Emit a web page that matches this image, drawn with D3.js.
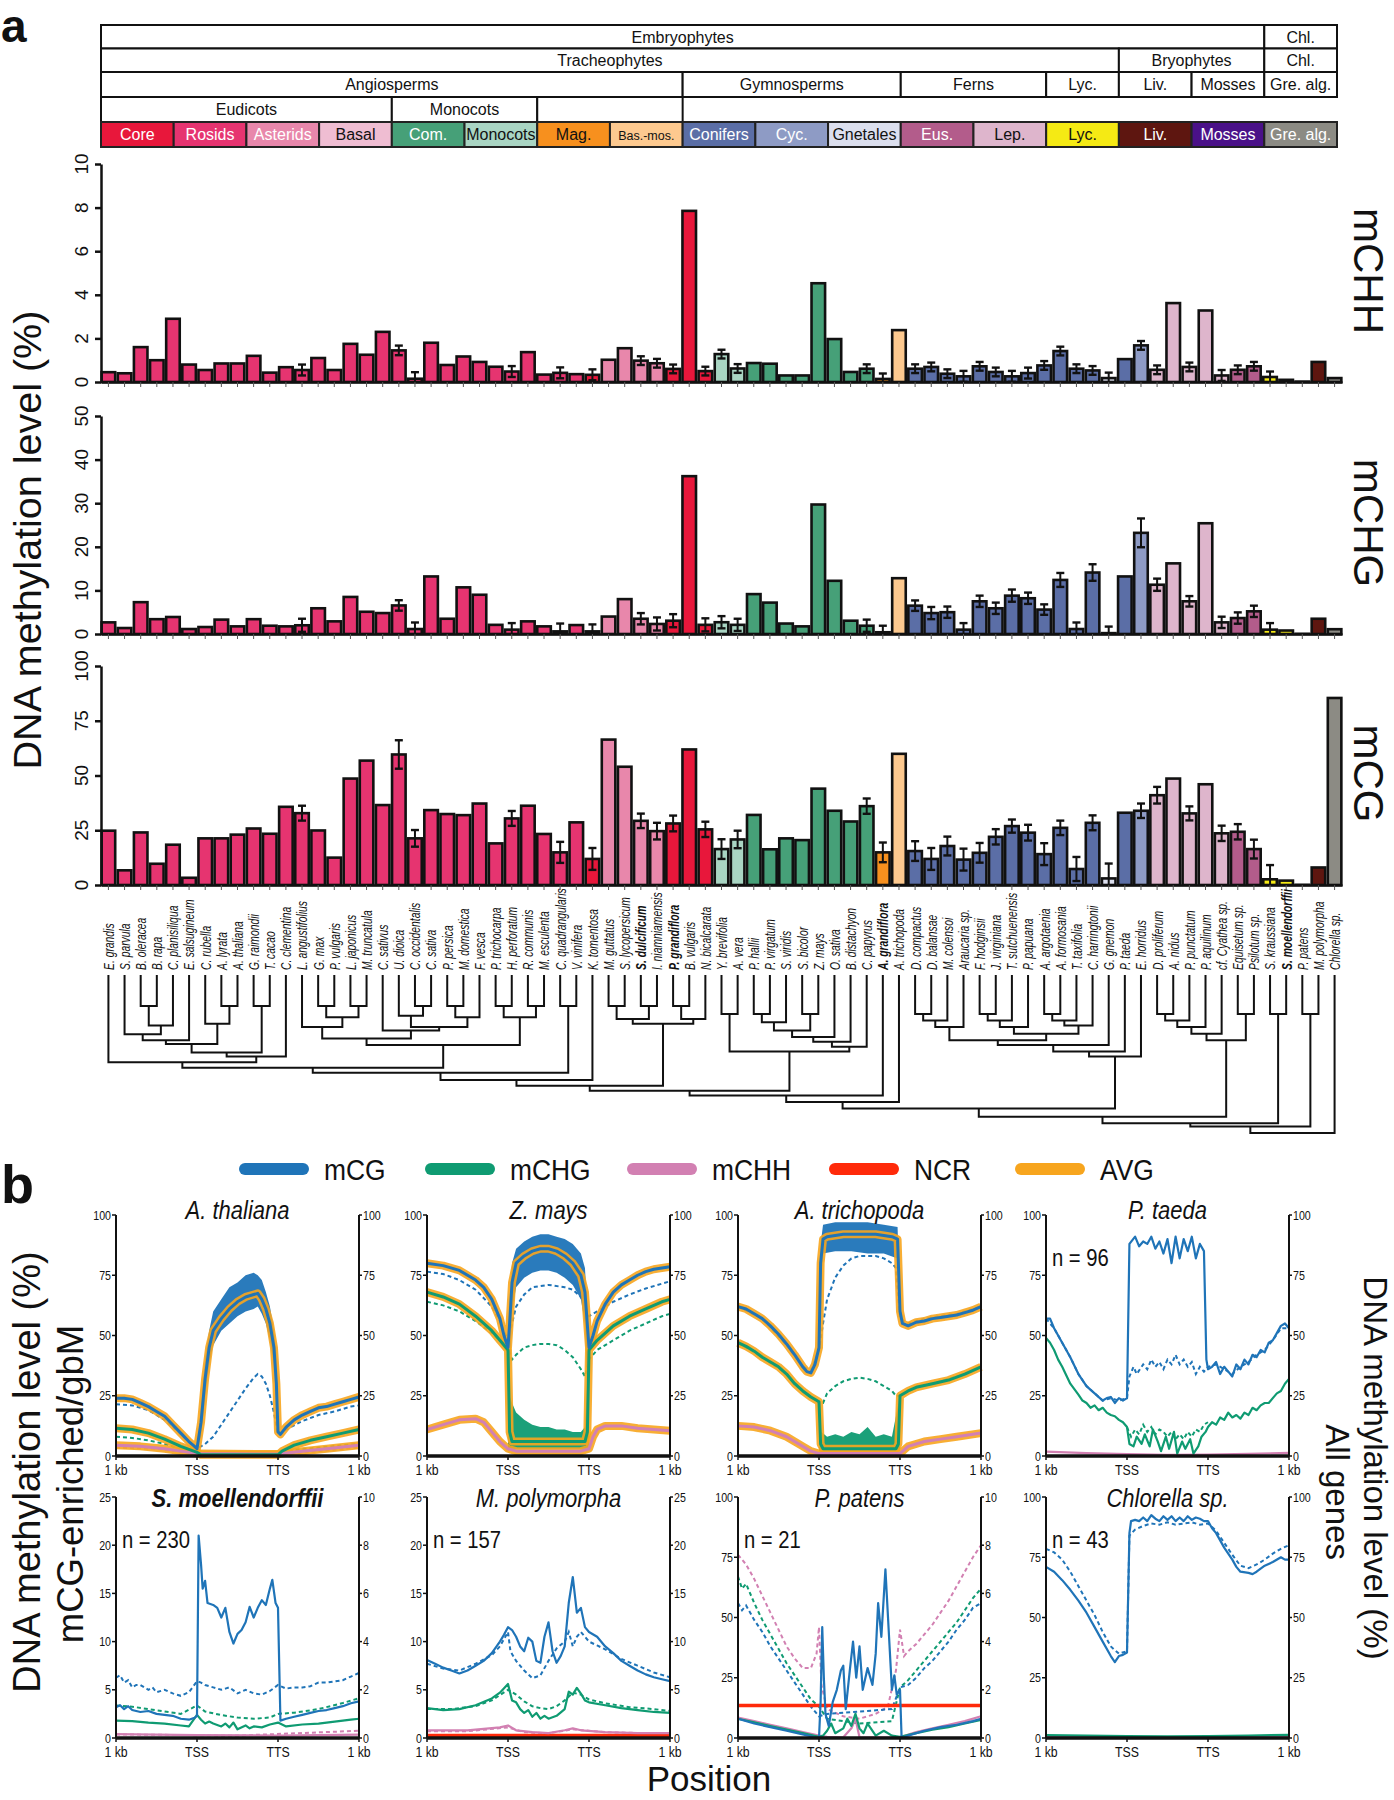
<!DOCTYPE html>
<html><head><meta charset="utf-8">
<script src="https://cdn.jsdelivr.net/npm/d3@7"></script>
<style>
body{margin:0;background:#fff;}
svg{display:block;font-family:'Liberation Sans',Arial,Helvetica,sans-serif;}
</style></head><body>
<svg id="c" width="1394" height="1800"></svg>
<script>
// ---------------- DATA: panel a ----------------
const species = ["E. grandis","S. parvula","B. oleracea","B. rapa","C. planisiliqua","E. salsugineum","C. rubella","A. lyrata","A. thaliana","G. raimondii","T. cacao","C. clementina","L. angustifolius","G. max","P. vulgaris","L. japonicus","M. truncatula","C. sativus","U. dioica","C. occidentalis","C. sativa","P. persica","M. domestica","F. vesca","P. trichocarpa","H. perforatum","R. communis","M. esculenta","C. quadrangularis","V. vinifera","K. tomentosa","M. guttatus","S. lycopersicum","S. dulcificum","I. niamniamensis","P. grandiflora","B. vulgaris","N. bicalcarata","Y. brevifolia","A. vera","P. hallii","P. virgatum","S. viridis","S. bicolor","Z. mays","O. sativa","B. distachyon","C. papyrus","A. grandiflora","A. trichopoda","D. compactus","D. balansae","M. colensoi","Araucaria sp.","F. hodginsii","J. virginiana","T. sutchuenensis","P. papuana","A. argotaenia","A. formosania","T. taxifolia","C. harringtonii","G. gnemon","P. taeda","E. horridus","D. proliferum","A. nidus","P. punctatum","P. aquilinum","cf. Cyathea sp.","Equisetum sp.","Psilotum sp.","S. kraussiana","S. moellendorffii","P. patens","M. polymorpha","Chlorella sp."];
const boldSpecies = ["S. dulcificum","P. grandiflora","A. grandiflora","S. moellendorffii"];
const speciesGroup = ["Rosids","Rosids","Rosids","Rosids","Rosids","Rosids","Rosids","Rosids","Rosids","Rosids","Rosids","Rosids","Rosids","Rosids","Rosids","Rosids","Rosids","Rosids","Rosids","Rosids","Rosids","Rosids","Rosids","Rosids","Rosids","Rosids","Rosids","Rosids","Rosids","Rosids","Core","Asterids","Asterids","Asterids","Asterids","Core","Core","Core","Monocots","Monocots","Com.","Com.","Com.","Com.","Com.","Com.","Com.","Com.","Mag.","Bas.-mos.","Conifers","Conifers","Conifers","Conifers","Conifers","Conifers","Conifers","Conifers","Conifers","Conifers","Conifers","Conifers","Gnetales","Conifers","Cyc.","Lep.","Lep.","Lep.","Lep.","Lep.","Eus.","Eus.","Lyc.","Lyc.","Mosses","Liv.","Gre. alg."];

const mCHH = [0.45,0.4,1.6,1.0,2.9,0.8,0.55,0.85,0.85,1.2, 0.43,0.68,0.55,1.1,0.55,1.75,1.25,2.3,1.45,0.15, 1.8,0.78,1.17,0.92,0.7,0.48,1.37,0.34,0.42,0.36, 0.33,1.02,1.55,0.98,0.86,0.6,7.85,0.5,1.28,0.62, 0.87,0.84,0.3,0.3,4.53,1.97,0.46,0.61,0.14,2.38, 0.61,0.69,0.38,0.26,0.72,0.46,0.26,0.41,0.76,1.42, 0.61,0.53,0.18,1.05,1.68,0.56,3.62,0.69,3.28,0.3, 0.56,0.72,0.23,0.1,0.02,0.92,0.18];
const mCHHerr = [0,0,0,0,0,0,0,0,0,0, 0,0,.25,0,0,0,0,0,.22,.3, 0,0,0,0,0,.25,0,0,.25,0, .25,0,0,.2,.2,.2,0,.2,.2,.2, 0,0,0,0,0,0,0,.2,.25,0, .2,.2,.2,.25,.2,.2,.25,.25,.2,.2, .2,.2,.25,0,.2,.2,0,.2,0,.25, .2,.2,.25,0,0,0,0];
const mCHG = [2.67,1.37,7.3,3.4,3.9,1.14,1.6,3.3,1.75,3.4, 1.9,1.75,2.0,5.9,2.9,8.5,5.1,4.8,6.55,1.14, 13.2,3.5,10.7,9.0,2.1,1.0,2.9,1.75,0.6,2.05, 0.6,4.0,8.0,3.5,2.3,3.05,36.2,2.1,2.7,2.1, 9.15,7.2,2.4,1.75,29.7,12.2,3.05,1.9,0.4,12.8, 6.5,4.8,5.0,1.0,7.5,5.9,8.8,8.2,5.6,12.4, 1.14,14.1,0.2,13.2,23.2,11.3,16.2,7.5,25.4,2.67, 3.66,5.2,1.0,0.8,0.05,3.5,1.1];
const mCHGerr = [0,0,0,0,0,0,0,0,0,0, 0,0,1.5,0,0,0,0,0,1.2,1.5, 0,0,0,0,0,1.5,0,0,1.8,0, 1.6,0,0,1.3,1.5,1.5,0,1.5,1.4,1.4, 0,0,0,0,0,0,0,1.4,1.5,0, 1.2,1.4,1.3,1.5,1.3,1.3,1.4,1.3,1.2,1.6, 1.5,1.9,1.5,0,3.3,1.4,0,1.2,0,1.3, 1.3,1.3,1.5,0,0,0,0];
const mCG = [24.8,6.7,24,9.7,18.4,3.3,21.3,21.3,23,25.8, 23.4,35.7,32.8,24.9,12.5,48.6,56.8,36.5,59.6,21.3, 34.2,32.4,31.9,37.2,19,30.4,36.2,23.3,14.9,28.6, 11.9,66.4,54,29.3,24.6,28.1,61.9,25.4,16.4,20.8, 32,16.3,21.3,20.5,44,33.9,29,36,14.9,59.9, 15.5,11.9,17.8,11.6,14.7,22,26.9,23.9,14.1,26.1, 7.3,28.4,3,33,33.9,41,48.6,32.7,46,23.6, 24.3,16.4,2.6,2,0.1,8,85.4];
const mCGerr = [0,0,0,0,0,0,0,0,0,0, 0,0,3.4,0,0,0,0,0,6.5,3.8, 0,0,0,0,0,3.4,0,0,4.8,0, 5,0,0,3.3,3.8,3.6,0,3.5,4.5,4, 0,0,0,0,0,0,0,3.5,4.5,0, 4.5,5,4.3,5,4.5,3.5,3,3.6,5,3.3, 5.5,3.4,6.8,0,3.3,3.8,0,3.2,0,3.5, 3.5,4.3,6.5,0,0,0,0];

const groups = ["Core","Rosids","Asterids","Basal","Com.","Monocots","Mag.","Bas.-mos.","Conifers","Cyc.","Gnetales","Eus.","Lep.","Lyc.","Liv.","Mosses","Gre. alg."];
const groupColors = ["#e8173b","#e63470","#e887ab","#efbdd2","#46a078","#a9d5c3","#f7901e","#fdc98f","#5b6ea6","#8e9bc5","#dcdfee","#b35c8b","#deb5cc","#f5ea14","#5e1610","#4a1188","#8c8b84"];
const groupTextColors = ["#fff","#fff","#fff","#111","#fff","#111","#111","#111","#fff","#fff","#111","#fff","#111","#111","#fff","#fff","#fff"];
const headerRows = [
  [["Embryophytes",16],["Chl.",1]],
  [["Tracheophytes",14],["Bryophytes",2],["Chl.",1]],
  [["Angiosperms",8],["Gymnosperms",3],["Ferns",2],["Lyc.",1],["Liv.",1],["Mosses",1],["Gre. alg.",1]],
  [["Eudicots",4],["Monocots",2],["",2]]
];
// tree: [node, childA, childB, branch level]
const treeJoins = [
 ["br1",3,4,9.5],["br2","br1",5,15.5],["br3",2,"br2",18.2],["br4","br3",6,20],
 ["ar1",8,9,9.5],["ar2",7,"ar1",15],["bra","br4","ar2",21.2],
 ["mal1",10,11,9.5],["mv1","bra","mal1",23.8],["mv2","mv1",12,25],["malv",1,"mv2",26.8],
 ["fa1",14,15,9.5],["fa2",16,17,9.5],["fa3","fa1","fa2",13],["fab",13,"fa3",16],
 ["ro1",20,21,9.5],["ro2",19,"ro1",12.5],["ro3",22,23,9.5],["ro4","ro3",24,13],["ros","ro2","ro4",16],
 ["cuc",18,"ros",17],["fr","fab","cuc",19.5],
 ["mp1",25,26,9.5],["mp2",27,28,9.5],["mpg","mp1","mp2",13],["fabids","fr","mpg",21.5],
 ["rs1","malv","fabids",28.5],["vit",29,30,9.5],["rs2","rs1","vit",30],["rs3","rs2",31,32.2],
 ["as1",32,33,9.5],["as2",34,35,9.5],["ast","as1","as2",13.5],["ca1",36,37,9.5],["car","ca1",38,13.5],["sup","ast","car",15],
 ["eud","rs3","sup",34],
 ["mo1",39,40,12],["po1",41,42,12],["po2","po1",43,14.5],["po3",44,45,12],["po4","po2","po3",17],
 ["po5","po4",46,19],["po6","po5",47,20.5],["po7","po6",48,22],["mon","mo1","po7",23.5],
 ["em","eud","mon",35.5],["an1","em",49,37],["ang","an1",50,39],
 ["gy1",51,52,12],["gy2","gy1",53,14],["gy3","gy2",54,16],
 ["cu1",55,56,12],["cu2","cu1",57,14],["cu3","cu2",58,16],
 ["ta1",59,60,12],["ta2","ta1",61,14],["ta3","ta2",62,15.5],["ct","cu3","ta3",18],
 ["gy4","gy3","ct",20],["gy5","gy4",63,21.5],["gy6","gy5",64,23.5],["gym","gy6",65,25],
 ["fe1",66,67,12],["fe2","fe1",68,14],["fe3","fe2",69,16],["fe4","fe3",70,18],["eu1",71,72,12],["fer","fe4","eu1",20],
 ["sp","ang","gym",41],["vs","sp","fer",43.5],["ly",73,74,12],["tr","vs","ly",45.5],
 ["by",75,76,12],["em2","tr","by",46.5],["root","em2",77,48.5]
];

// ---------------- DATA: panel b (position: 0=1kb up, 1=TSS, 2=TTS, 3=1kb down) ----------------
const thalCG = [[0,24],[0.1,24],[0.2,23.5],[0.3,22],[0.4,20.5],[0.5,18.5],[0.6,16.5],[0.7,13],[0.8,9.5],[0.9,6],[0.97,4],[1.0,3],[1.05,14],[1.1,32],[1.15,45],[1.2,52],[1.3,57],[1.4,61],[1.5,64],[1.6,66],[1.7,67],[1.75,67.5],[1.8,65],[1.85,61],[1.9,55],[1.95,45],[1.98,30],[2.0,10],[2.03,9],[2.1,12],[2.2,15],[2.3,17],[2.4,18.5],[2.5,20],[2.6,20.5],[2.7,21.5],[2.8,22.5],[2.9,23.5],[3.0,24.5]];
const thalCGband = [[1.0,3,4],[1.05,8,20],[1.1,25,40],[1.15,38,52],[1.2,46,60],[1.3,52,65],[1.4,55,70],[1.5,58,72],[1.6,60,75],[1.7,61,76],[1.75,62,75],[1.8,59,73],[1.85,55,68],[1.9,48,62],[1.95,38,52],[1.98,20,42],[2.0,8,12]];
const thalCGd = [[0,21.5],[0.2,21],[0.4,19],[0.6,15],[0.8,9],[0.95,4],[1.0,3],[1.1,5],[1.2,8],[1.3,13],[1.4,18],[1.5,23],[1.6,28],[1.7,32.5],[1.75,34],[1.8,33],[1.85,30],[1.9,25],[1.95,18],[2.0,9],[2.1,11],[2.3,14.5],[2.5,17],[2.7,18.5],[2.9,20.5],[3.0,21]];
const thalCHG = [[0,11.5],[0.2,11],[0.4,9.5],[0.6,7],[0.8,4],[1.0,1.5],[1.05,0.5],[2.0,0.5],[2.05,2],[2.2,4.5],[2.4,6.5],[2.6,8],[2.8,9.5],[3.0,11]];
const thalCHGd = [[0,8],[0.2,7.5],[0.4,6.5],[0.6,5],[0.8,3],[1.0,1],[2.0,1],[2.2,2.5],[2.5,3.5],[2.8,4.5],[3.0,5]];
const thalCHH = [[0,4.5],[0.3,4],[0.6,3],[0.9,1.5],[1.0,1],[2.0,0.8],[2.3,2],[2.6,3],[3.0,4.5]];
const thalCHHd = [[0,3.5],[0.5,3],[1.0,0.8],[2.0,0.6],[2.5,2],[3.0,3.5]];

const zmCG = [[0,80],[0.2,79],[0.4,77],[0.6,73],[0.7,70],[0.8,65],[0.9,57],[0.95,50],[1.0,45],[1.02,55],[1.05,72],[1.1,80],[1.2,83],[1.3,85],[1.4,86],[1.5,86],[1.6,85],[1.7,83],[1.8,80],[1.9,75],[1.95,68],[2.0,45],[2.05,50],[2.1,56],[2.2,63],[2.3,68],[2.4,71],[2.5,73],[2.6,75],[2.7,76.5],[2.8,77.5],[2.9,78],[3.0,78.5]];
const zmCGband = [[1.0,5,50],[1.02,30,65],[1.05,60,80],[1.1,70,86],[1.2,74,89],[1.3,76,91],[1.4,77,92],[1.5,77,92],[1.6,76,91],[1.7,74,90],[1.8,71,88],[1.9,65,84],[1.95,55,78],[2.0,5,50]];
const zmCGd = [[0,76.5],[0.2,75.5],[0.4,73],[0.6,69],[0.8,62],[0.9,56],[1.0,48],[1.05,55],[1.1,62],[1.2,67],[1.3,70],[1.5,71],[1.7,70],[1.8,69],[1.9,66],[1.95,62],[2.0,58],[2.1,60],[2.3,64],[2.5,67],[2.7,69.5],[2.9,71.5],[3.0,72.5]];
const zmCHG = [[0,68],[0.2,66],[0.4,63],[0.6,58],[0.8,52],[0.9,48],[1.0,44],[1.02,10],[1.05,6],[1.95,6],[1.98,10],[2.0,44],[2.1,48],[2.3,54],[2.5,58],[2.7,61],[2.9,64],[3.0,65]];
const zmCHGband = [[1.0,2,44],[1.02,3,25],[1.05,3,22],[1.1,3,18],[1.2,3,15],[1.3,3,13],[1.4,3,12],[1.5,3,12],[1.6,3,11],[1.7,3,11],[1.8,3,10],[1.9,3,10],[1.95,3,12],[2.0,3,44]];
const zmCHGd = [[0,64],[0.2,62.5],[0.4,60],[0.6,56],[0.8,51],[0.9,48],[1.0,45],[1.05,40],[1.1,42],[1.2,45],[1.3,46],[1.4,46.5],[1.5,46.5],[1.6,46],[1.7,44],[1.8,41],[1.9,36],[1.95,33],[2.0,40],[2.1,44],[2.3,48],[2.5,52],[2.7,55],[2.9,58],[3.0,59]];
const zmCHH = [[0,11],[0.2,13],[0.4,15],[0.6,15.5],[0.7,14],[0.8,10],[0.9,6],[1.0,3],[1.1,2],[1.9,2],[2.0,3],[2.05,8],[2.1,11],[2.2,12.5],[2.4,12.5],[2.6,11.5],[2.8,11],[3.0,10.5]];

const atCG = [[0,62],[0.1,61],[0.2,59],[0.3,57],[0.4,54],[0.5,50.5],[0.6,46.5],[0.7,42],[0.8,37],[0.85,35],[0.9,34.5],[0.95,38],[1.0,45],[1.02,80],[1.05,90],[1.1,91],[1.3,92],[1.5,92],[1.7,92],[1.9,91],[1.97,90],[2.0,60],[2.03,55],[2.1,54],[2.2,55.5],[2.3,56],[2.4,57],[2.5,57.5],[2.6,58],[2.7,58.5],[2.8,59.5],[2.9,60.5],[3.0,62]];
const atCGband = [[1.0,44,46],[1.02,70,88],[1.05,84,96],[1.2,85,97],[1.4,85,97],[1.6,84,97],[1.8,84,96],[1.97,82,95],[2.0,55,62]];
const atCGd = [[0,62],[0.3,57],[0.6,46],[0.8,37],[0.9,35.5],[1.0,44],[1.05,55],[1.1,65],[1.2,74],[1.3,79],[1.4,82],[1.5,83],[1.6,83],[1.7,83],[1.8,82],[1.9,80],[1.95,78],[2.0,57],[2.1,55],[2.3,57],[2.5,58],[2.7,59],[3.0,62]];
const atCHG = [[0,47],[0.1,45.5],[0.2,43.5],[0.3,41],[0.4,39],[0.5,37],[0.6,34],[0.7,30],[0.8,27],[0.9,24.5],[1.0,22.5],[1.02,5],[1.05,3],[1.95,3],[1.98,5],[2.0,25],[2.1,27],[2.2,28.5],[2.4,30],[2.6,31.5],[2.8,34],[3.0,37]];
const atCHGband = [[1.0,2,22],[1.03,2,10],[1.1,2,8],[1.2,2,9],[1.3,2,8],[1.4,2,10],[1.5,2,9],[1.6,2,12],[1.7,2,8],[1.8,2,9],[1.9,2,8],[2.0,2,25]];
const atCHGd = [[0,47],[0.3,41],[0.6,34],[0.8,27],[1.0,22],[1.05,22],[1.1,26],[1.2,29],[1.3,31],[1.4,32],[1.5,32.5],[1.6,32],[1.7,31],[1.8,29],[1.9,27],[1.95,25],[2.0,25],[2.2,28.5],[2.5,31],[2.8,34],[3.0,37]];
const atCHH = [[0,12.5],[0.2,12],[0.4,10.5],[0.6,8],[0.8,4],[0.9,2],[1.0,1],[2.0,1],[2.1,4],[2.3,6],[2.5,7],[2.7,8],[3.0,9.5]];

const ptCG = [[0,57],[0.05,57],[0.1,53],[0.2,47],[0.3,41],[0.4,34],[0.5,29],[0.6,26],[0.7,23],[0.75,24],[0.8,24.5],[0.85,22],[0.9,24],[0.95,23],[1.0,24],[1.03,88],[1.1,91],[1.15,87],[1.2,89],[1.25,88],[1.3,91],[1.35,86],[1.4,89],[1.45,84],[1.5,90],[1.55,80],[1.6,91],[1.65,82],[1.7,90],[1.75,85],[1.8,91],[1.85,82],[1.9,88],[1.95,85],[1.98,40],[2.0,36],[2.05,37],[2.1,39],[2.15,34],[2.2,37],[2.25,35],[2.3,33],[2.35,38],[2.4,36],[2.45,40],[2.5,38],[2.55,42],[2.6,41],[2.65,44],[2.7,43],[2.75,47],[2.8,48],[2.85,51],[2.9,54],[2.95,55],[3.0,53]];
const ptCGd = [[0,57],[0.1,53],[0.2,47],[0.3,41],[0.4,34],[0.5,29],[0.6,26],[0.7,23],[0.8,24],[0.9,23],[1.0,24],[1.03,33],[1.08,37],[1.12,34],[1.2,38],[1.25,36],[1.3,40],[1.35,37],[1.4,39],[1.45,36],[1.5,40],[1.55,38],[1.6,42],[1.65,38],[1.7,40],[1.75,37],[1.8,39],[1.85,34],[1.9,37],[1.95,35],[2.0,37],[2.1,38],[2.2,36],[2.3,34],[2.4,37],[2.5,39],[2.6,42],[2.7,44],[2.8,48],[2.9,53],[3.0,53]];
const ptCHG = [[0,49],[0.05,47],[0.1,44],[0.15,40],[0.2,37],[0.3,30],[0.4,25.5],[0.45,23],[0.5,22],[0.55,20],[0.6,21],[0.65,19],[0.7,20],[0.75,18],[0.8,17],[0.85,16.5],[0.9,15],[0.95,14],[1.0,12],[1.03,5],[1.08,4],[1.12,8],[1.18,5],[1.22,9],[1.28,4],[1.32,11],[1.38,6],[1.42,2],[1.48,8],[1.52,3],[1.58,10],[1.62,1],[1.68,6],[1.72,3],[1.78,7],[1.82,1],[1.88,4],[1.92,8],[1.97,10],[2.0,12],[2.05,14],[2.1,13],[2.15,16],[2.2,15],[2.25,18],[2.3,16],[2.35,17],[2.4,15.5],[2.45,18],[2.5,17],[2.55,20],[2.6,19],[2.65,21],[2.7,22],[2.75,22],[2.8,24],[2.85,26],[2.9,27],[2.95,30],[3.0,32]];
const ptCHGd = [[1.0,12],[1.05,8],[1.1,11],[1.15,9],[1.2,13],[1.25,10],[1.3,12],[1.35,9],[1.4,11],[1.45,10],[1.5,8],[1.55,10],[1.6,7],[1.65,9],[1.7,7],[1.75,10],[1.8,8],[1.85,11],[1.9,10],[1.95,13],[2.0,14]];
const ptCHH = [[0,1.8],[0.5,1.2],[1.0,0.8],[1.5,0.5],[2.0,0.6],[2.5,0.9],[3.0,1.3]];

const smCG = [[0,3.2],[0.05,3.4],[0.1,3.0],[0.15,3.3],[0.2,2.9],[0.3,2.7],[0.4,2.8],[0.5,2.5],[0.6,2.4],[0.7,2.3],[0.8,2.0],[0.9,1.9],[0.97,2.1],[1.0,2.3],[1.02,21],[1.05,18],[1.07,15.5],[1.1,16.3],[1.13,14],[1.2,13.8],[1.25,13.5],[1.3,12.5],[1.35,13.5],[1.4,11],[1.45,9.8],[1.5,10.8],[1.55,11.2],[1.6,12],[1.65,13.6],[1.7,12.5],[1.75,13.5],[1.8,14.3],[1.85,13.8],[1.9,15.5],[1.93,16.4],[1.97,14],[2.0,13.5],[2.03,1.8],[2.1,2.0],[2.2,2.2],[2.3,2.4],[2.4,2.6],[2.5,2.8],[2.6,2.9],[2.7,3.1],[2.8,3.3],[2.9,3.6],[3.0,3.8]];
const smCGd = [[0,2.5],[0.05,2.6],[0.1,2.3],[0.15,2.4],[0.2,2.1],[0.25,2.2],[0.3,2.2],[0.4,2.0],[0.45,2.1],[0.5,1.9],[0.6,2.0],[0.7,1.85],[0.8,1.75],[0.9,1.9],[1.0,2.35],[1.05,2.3],[1.1,2.2],[1.2,2.1],[1.3,2.0],[1.35,2.05],[1.4,2.1],[1.5,1.85],[1.6,2.0],[1.7,1.85],[1.8,1.8],[1.9,1.95],[2.0,2.2],[2.1,2.05],[2.2,2.1],[2.3,2.1],[2.4,2.15],[2.5,2.3],[2.6,2.3],[2.7,2.35],[2.8,2.4],[2.9,2.55],[3.0,2.7]];
const smCHG = [[0,1.8],[0.2,1.75],[0.4,1.6],[0.6,1.5],[0.8,1.3],[0.9,1.2],[1.0,2.4],[1.05,1.9],[1.1,1.5],[1.15,1.7],[1.2,1.5],[1.3,1.2],[1.35,1.5],[1.4,1.1],[1.45,1.6],[1.5,0.9],[1.6,1.3],[1.65,1.0],[1.7,1.2],[1.8,1.1],[1.9,1.4],[2.0,1.6],[2.1,1.2],[2.3,1.4],[2.5,1.5],[2.7,1.7],[2.9,1.9],[3.0,2.0]];
const smCHGd = [[0,1.35],[0.2,1.3],[0.4,1.2],[0.6,1.1],[0.8,1.0],[1.0,1.35],[1.1,1.1],[1.3,0.95],[1.5,0.85],[1.7,0.8],[1.9,0.85],[2.0,1.0],[2.2,1.05],[2.5,1.2],[2.8,1.45],[3.0,1.65]];
const smCHH = [[0,0.4],[1.0,0.3],[2.0,0.25],[3.0,0.35]];
const smCHHd = [[0,0.15],[1.5,0.1],[3.0,0.3]];

const mpCG = [[0,8.1],[0.1,7.7],[0.2,7.3],[0.3,7.0],[0.4,6.7],[0.5,7.0],[0.6,7.5],[0.7,8.0],[0.8,8.8],[0.9,10.0],[0.95,10.7],[1.0,11.5],[1.05,11.2],[1.1,10.5],[1.15,9.5],[1.2,9.0],[1.25,10.4],[1.3,10.0],[1.35,8.0],[1.4,7.8],[1.45,10.5],[1.5,12.0],[1.55,9.0],[1.6,7.8],[1.65,8.5],[1.7,9.5],[1.75,14],[1.8,16.7],[1.85,13],[1.9,13.5],[1.95,11.5],[2.0,11],[2.1,10.5],[2.2,9.5],[2.3,8.8],[2.4,8.0],[2.5,7.5],[2.6,7.0],[2.7,6.6],[2.8,6.3],[2.9,6.1],[3.0,5.9]];
const mpCGd = [[0,7.7],[0.2,7.2],[0.4,7.0],[0.6,7.7],[0.8,8.6],[0.9,9.5],[1.0,11],[1.03,9],[1.1,8],[1.2,7.0],[1.3,6.2],[1.4,6.5],[1.5,8],[1.6,9.3],[1.7,10],[1.75,11],[1.8,9.5],[1.85,10.5],[1.9,11],[2.0,10],[2.1,9.6],[2.2,9.2],[2.4,8.2],[2.6,7.5],[2.8,6.8],[3.0,6.3]];
const mpCHG = [[0,3.1],[0.2,2.9],[0.4,3.0],[0.6,3.4],[0.8,4.1],[0.9,4.7],[1.0,5.6],[1.05,3.9],[1.1,3.7],[1.15,3.0],[1.2,2.6],[1.25,2.9],[1.3,2.2],[1.35,2.6],[1.4,2.0],[1.45,2.3],[1.5,2.0],[1.6,2.3],[1.7,3.0],[1.75,4.8],[1.8,4.5],[1.85,5.2],[1.9,4.6],[1.95,3.9],[2.0,3.7],[2.2,3.4],[2.4,3.1],[2.6,2.9],[2.8,2.7],[3.0,2.6]];
const mpCHGd = [[0,3.0],[0.3,3.0],[0.6,3.3],[0.8,3.9],[1.0,5.0],[1.1,4.5],[1.2,3.8],[1.3,3.3],[1.4,3.1],[1.5,3.0],[1.6,3.3],[1.7,3.9],[1.8,4.7],[1.9,4.5],[2.0,4.0],[2.2,3.6],[2.5,3.2],[2.8,3.0],[3.0,2.8]];
const mpCHH = [[0,0.8],[0.5,0.8],[0.9,1.1],[1.0,1.3],[1.1,0.8],[1.3,0.6],[1.5,0.5],[1.7,0.8],[1.8,1.0],[1.9,0.8],[2.2,0.6],[2.6,0.5],[3.0,0.5]];
const mpCHHd = [[0,0.7],[0.5,0.7],[1.0,1.1],[1.2,0.6],[1.5,0.5],[1.8,0.9],[2.2,0.6],[3.0,0.45]];
const mpNCR = [[0,0.25],[3.0,0.25]];

const ppNCR = [[0,13.5],[3.0,13.5]];
const ppCG = [[0,8],[0.2,6],[0.4,4.5],[0.6,3],[0.8,1.5],[0.95,0.3],[1.0,0],[1.02,15],[1.04,46],[1.06,25],[1.08,10],[1.12,5],[1.17,15],[1.22,20],[1.27,28],[1.3,30],[1.33,12],[1.38,28],[1.42,40],[1.46,25],[1.5,38],[1.54,20],[1.6,29],[1.66,22],[1.7,35],[1.73,56],[1.77,42],[1.82,70],[1.86,45],[1.9,20],[1.93,26],[1.96,18],[2.0,20],[2.02,0],[2.1,1],[2.3,3],[2.5,4.5],[2.7,5.5],[2.9,7],[3.0,8]];
const ppCGd = [[0,5.6],[0.05,5.3],[0.1,5.5],[0.2,4.9],[0.3,4.4],[0.4,3.8],[0.5,3.3],[0.6,2.8],[0.7,2.3],[0.8,1.8],[0.9,1.3],[1.0,0.9],[1.1,1.0],[1.5,1.1],[1.9,1.2],[2.0,2.1],[2.1,2.2],[2.2,2.5],[2.3,2.9],[2.4,3.2],[2.5,3.6],[2.6,4.0],[2.7,4.5],[2.8,4.9],[2.9,5.4],[3.0,5.6]];
const ppCHGd = [[0,6.7],[0.05,6.2],[0.1,6.4],[0.2,5.6],[0.3,4.9],[0.4,4.3],[0.5,3.7],[0.6,3.1],[0.7,2.6],[0.8,2.1],[0.9,1.6],[1.0,1.3],[1.1,0.8],[1.5,0.6],[1.9,0.7],[2.0,2.1],[2.1,2.4],[2.2,2.8],[2.3,3.2],[2.4,3.6],[2.5,4.0],[2.6,4.4],[2.7,4.8],[2.8,5.3],[2.9,5.8],[3.0,6.2]];
const ppCHHd = [[0,7.6],[0.1,7.2],[0.2,6.6],[0.3,5.9],[0.4,5.2],[0.5,4.5],[0.6,3.8],[0.7,3.3],[0.8,2.9],[0.9,2.9],[0.97,3.5],[1.0,4.6],[1.03,2.2],[1.1,1.2],[1.3,0.9],[1.5,0.8],[1.7,1.0],[1.85,1.3],[1.95,2.8],[2.0,4.5],[2.05,3.4],[2.1,3.6],[2.2,3.9],[2.3,4.3],[2.4,4.7],[2.5,5.2],[2.6,5.7],[2.7,6.3],[2.8,6.9],[2.9,7.5],[3.0,8.0]];
const ppCHG = [[0,8],[0.2,6.5],[0.4,5],[0.6,3.5],[0.8,2],[1.0,0.5],[1.05,1],[1.1,3],[1.15,6],[1.2,2],[1.3,4],[1.35,8],[1.4,5],[1.45,10],[1.5,4],[1.55,2],[1.6,6],[1.7,1],[1.8,3],[1.9,1],[2.0,0.5],[2.2,2],[2.4,3.5],[2.6,4.5],[2.8,6],[3.0,7.5]];
const ppCHH = [[0,8.5],[0.2,7],[0.4,5.5],[0.6,4],[0.8,2.5],[1.0,1],[1.1,0.5],[1.3,0.3],[1.4,4],[1.45,8],[1.5,0.3],[1.8,0.2],[2.0,0.3],[2.2,2.5],[2.4,4],[2.6,5.5],[2.8,7],[3.0,9]];

const chCG = [[0,71],[0.1,69],[0.2,65.5],[0.3,61.5],[0.4,57],[0.5,52],[0.6,46],[0.7,40],[0.8,34],[0.85,31.5],[0.9,34],[0.95,34.5],[1.0,35.5],[1.03,85],[1.05,90],[1.1,90.5],[1.15,90],[1.2,91.5],[1.25,90],[1.3,92.5],[1.35,91],[1.4,90],[1.45,92],[1.5,90.5],[1.55,92],[1.6,90],[1.65,91.5],[1.7,90],[1.75,92],[1.8,90.5],[1.85,91.5],[1.9,91],[1.95,90],[2.0,90],[2.05,87],[2.1,85],[2.15,82],[2.2,79],[2.3,74],[2.35,71],[2.4,69],[2.5,68.5],[2.55,68],[2.6,69],[2.7,71.5],[2.8,73],[2.9,75],[2.95,74],[3.0,74]];
const chCGd = [[0,78.5],[0.1,77],[0.2,74],[0.3,69],[0.4,63],[0.5,57],[0.6,51],[0.7,44],[0.8,38],[0.9,35],[1.0,36],[1.03,84],[1.1,86.5],[1.2,88],[1.3,89],[1.4,88.5],[1.5,89.5],[1.6,88.5],[1.7,89],[1.8,89.5],[1.9,88.5],[2.0,89],[2.1,86],[2.2,81],[2.3,76],[2.4,71.5],[2.5,70.5],[2.6,72],[2.7,74],[2.8,76.5],[2.9,78.5],[3.0,80]];
const chCHG = [[0,1.2],[0.5,1],[1,0.8],[1.5,0.7],[2,0.8],[2.5,1],[3,1.3]];
const chCHH = [[0,0.5],[1.5,0.3],[3,0.4]];

const legendKeys = ["mCG","mCHG","mCHH","NCR","AVG"];
const lineColors = {CG:"#1f74b8", CHG:"#0f9b72", CHH:"#d280b2", NCR:"#ff2a0a", AVG:"#f7a51e"};
const posLabels = ["1 kb","TSS","TTS","1 kb"];

const bPanels = [
 {title:"A. thaliana", lmax:100, lt:[0,25,50,75,100], rmax:100, rt:[0,25,50,75,100], n:"", halo:true,
  bands:[[thalCGband,"CG"]], dashed:[[thalCHHd,"CHH"],[thalCHGd,"CHG"],[thalCGd,"CG"]], solid:[[thalCHH,"CHH"],[thalCHG,"CHG"],[thalCG,"CG"]]},
 {title:"Z. mays", lmax:100, lt:[0,25,50,75,100], rmax:100, rt:[0,25,50,75,100], n:"", halo:true,
  bands:[[zmCGband,"CG"],[zmCHGband,"CHG"]], dashed:[[zmCHGd,"CHG"],[zmCGd,"CG"]], solid:[[zmCHH,"CHH"],[zmCHG,"CHG"],[zmCG,"CG"]]},
 {title:"A. trichopoda", lmax:100, lt:[0,25,50,75,100], rmax:100, rt:[0,25,50,75,100], n:"", halo:true,
  bands:[[atCGband,"CG"],[atCHGband,"CHG"]], dashed:[[atCHGd,"CHG"],[atCGd,"CG"]], solid:[[atCHH,"CHH"],[atCHG,"CHG"],[atCG,"CG"]]},
 {title:"P. taeda", lmax:100, lt:[0,25,50,75,100], rmax:100, rt:[0,25,50,75,100], n:"n = 96", halo:false,
  bands:[], dashed:[[ptCHGd,"CHG"],[ptCGd,"CG"]], solid:[[ptCHH,"CHH"],[ptCHG,"CHG"],[ptCG,"CG"]]},
 {title:"S. moellendorffii", bold:true, lmax:25, lt:[0,5,10,15,20,25], rmax:10, rt:[0,2,4,6,8,10], n:"n = 230", halo:false,
  bands:[], dashed:[[smCHHd,"CHH"],[smCHGd,"CHG"],[smCGd,"CG"]], solid:[[smCHH,"CHH"],[smCHG,"CHG"],[smCG,"CG"]]},
 {title:"M. polymorpha", lmax:25, lt:[0,5,10,15,20,25], rmax:25, rt:[0,5,10,15,20,25], n:"n = 157", halo:false,
  bands:[], dashed:[[mpCHHd,"CHH"],[mpCHGd,"CHG"],[mpCGd,"CG"]], solid:[[mpNCR,"NCR"],[mpCHH,"CHH"],[mpCHG,"CHG"],[mpCG,"CG"]]},
 {title:"P. patens", lmax:100, lt:[0,25,50,75,100], rmax:10, rt:[0,2,4,6,8,10], n:"n = 21", halo:false,
  bands:[], dashed:[[ppCHHd,"CHH"],[ppCHGd,"CHG"],[ppCGd,"CG"]], solid:[[ppNCR,"NCR"],[ppCHH,"CHH"],[ppCHG,"CHG"],[ppCG,"CG"]]},
 {title:"Chlorella sp.", lmax:100, lt:[0,25,50,75,100], rmax:100, rt:[0,25,50,75,100], n:"n = 43", halo:false,
  bands:[], dashed:[[chCGd,"CG"]], solid:[[chCHH,"CHH"],[chCHG,"CHG"],[chCG,"CG"]]}
];

// ---------------- DRAWING ----------------
const svg = d3.select("#c");
const INK = "#111";
function ctext(g, x, y, str, size, sx, anchor){
  return g.append("text").attr("transform",`translate(${x},${y}) scale(${sx},1)`)
    .attr("text-anchor",anchor||"start").attr("font-size",size).attr("fill",INK).text(str);
}

svg.append("text").attr("x",1).attr("y",42).attr("font-size",46).attr("font-weight","bold").attr("fill",INK).text("a");
svg.append("text").attr("x",1).attr("y",1203).attr("font-size",54).attr("font-weight","bold").attr("fill",INK).text("b");

// header table
const hx = d3.scaleLinear().domain([0,17]).range([101,1337]);
const rowY = [25,48.5,72,97,122,147];
const hg = svg.append("g");
headerRows.forEach((row,ri)=>{
  let c=0;
  row.forEach(([label,span])=>{
    hg.append("rect").attr("x",hx(c)).attr("y",rowY[ri]).attr("width",hx(c+span)-hx(c)).attr("height",rowY[ri+1]-rowY[ri])
      .attr("fill","#fff").attr("stroke",INK).attr("stroke-width",2);
    if(label) hg.append("text").attr("x",(hx(c)+hx(c+span))/2).attr("y",(rowY[ri]+rowY[ri+1])/2+5.8)
      .attr("text-anchor","middle").attr("font-size",16).attr("fill",INK).text(label);
    c+=span;
  });
});
groups.forEach((gname,i)=>{
  hg.append("rect").attr("x",hx(i)).attr("y",rowY[4]).attr("width",hx(i+1)-hx(i)).attr("height",rowY[5]-rowY[4])
    .attr("fill",groupColors[i]).attr("stroke","#222").attr("stroke-width",2);
  hg.append("text").attr("x",(hx(i)+hx(i+1))/2).attr("y",(rowY[4]+rowY[5])/2+5.8).attr("text-anchor","middle")
    .attr("font-size",gname==="Bas.-mos."?12.5:16).attr("fill",groupTextColors[i]).text(gname);
});
const colorOf = g => groupColors[groups.indexOf(g)];

// bar panels
const xb = d3.scaleBand().domain(d3.range(species.length)).range([101,1342]).paddingInner(0.16).paddingOuter(0.04);
const barPanels = [
  {vals:mCHH, err:mCHHerr, max:10, ticks:[0,2,4,6,8,10], top:164, bottom:382, label:"mCHH"},
  {vals:mCHG, err:mCHGerr, max:50, ticks:[0,10,20,30,40,50], top:416, bottom:634, label:"mCHG"},
  {vals:mCG, err:mCGerr, max:100, ticks:[0,25,50,75,100], top:666, bottom:885, label:"mCG"}
];
barPanels.forEach(p=>{
  const y = d3.scaleLinear().domain([0,p.max]).range([p.bottom,p.top]);
  const g = svg.append("g");
  g.selectAll("rect.bar").data(p.vals).join("rect").attr("class","bar")
    .attr("x",(d,i)=>xb(i)).attr("width",xb.bandwidth())
    .attr("y",d=>y(d)).attr("height",d=>y(0)-y(d))
    .attr("fill",(d,i)=>colorOf(speciesGroup[i])).attr("stroke",INK).attr("stroke-width",2.6);
  p.vals.forEach((v,i)=>{
    const e=p.err[i]; if(!e) return;
    const cx = xb(i)+xb.bandwidth()/2, lo=Math.max(0,v-e), hi=v+e;
    g.append("line").attr("x1",cx).attr("x2",cx).attr("y1",y(lo)).attr("y2",y(hi)).attr("stroke",INK).attr("stroke-width",2);
    g.append("line").attr("x1",cx-4).attr("x2",cx+4).attr("y1",y(hi)).attr("y2",y(hi)).attr("stroke",INK).attr("stroke-width",2.4);
    if(v-e>0) g.append("line").attr("x1",cx-4).attr("x2",cx+4).attr("y1",y(lo)).attr("y2",y(lo)).attr("stroke",INK).attr("stroke-width",2.4);
  });
  const ax = g.append("g").attr("transform",`translate(0,${p.bottom})`)
    .call(d3.axisBottom(xb).tickSize(5).tickSizeOuter(0).tickFormat(""));
  ax.select(".domain").attr("stroke",INK).attr("stroke-width",2.4);
  ax.selectAll(".tick line").attr("stroke","#555").attr("stroke-width",1);
  const ay = g.append("g").attr("transform","translate(101,0)")
    .call(d3.axisLeft(y).tickValues(p.ticks).tickSize(6).tickSizeOuter(0).tickFormat(""));
  ay.select(".domain").attr("stroke",INK).attr("stroke-width",2.5);
  ay.selectAll(".tick line").attr("stroke",INK).attr("stroke-width",2.5);
  p.ticks.forEach(t=>{
    g.append("text").attr("transform",`translate(81,${y(t)}) rotate(-90)`).attr("text-anchor","middle").attr("dy","0.35em")
      .attr("font-size",19).attr("fill",INK).text(t);
  });
  g.append("text").attr("transform",`translate(1369,${(p.top+p.bottom)/2-2}) rotate(90)`).attr("text-anchor","middle")
    .attr("dy","0.35em").attr("font-size",42).attr("fill",INK).text(p.label);
});
svg.append("text").attr("transform","translate(27,540) rotate(-90)").attr("text-anchor","middle").attr("dy","0.35em")
  .attr("font-size",39.5).attr("fill",INK).text("DNA methylation level (%)");

// species labels (squeezed italic)
species.forEach((s,i)=>{
  svg.append("text").attr("transform",`translate(${xb(i)+xb.bandwidth()/2},970) rotate(-90) scale(0.69,1)`).attr("dy","0.36em")
    .attr("font-style","italic").attr("font-size",15)
    .attr("font-weight",boldSpecies.includes(s)?"bold":"normal").attr("fill",INK).text(s);
});

// dendrogram
const yt = d3.scaleLinear().domain([0,48.5]).range([975,1133]);
const nodes = {};
species.forEach((s,i)=>{ nodes[i+1] = {x:xb(i)+xb.bandwidth()/2, lev:0}; });
const tg = svg.append("g").attr("stroke",INK).attr("stroke-width",2).attr("fill","none");
treeJoins.forEach(([id,a,b,lev])=>{
  const A=nodes[a], B=nodes[b];
  tg.append("path").attr("d",`M${A.x},${yt(A.lev)}V${yt(lev)}H${B.x}V${yt(B.lev)}`);
  nodes[id]={x:(A.x+B.x)/2, lev:lev};
});

// ---------------- panel b ----------------
const legX = [239,425,627,829,1015];
const lgKey = ["CG","CHG","CHH","NCR","AVG"];
legendKeys.forEach((k,i)=>{
  svg.append("line").attr("x1",legX[i]+6).attr("x2",legX[i]+64).attr("y1",1169).attr("y2",1169)
    .attr("stroke",lineColors[lgKey[i]]).attr("stroke-width",12).attr("stroke-linecap","round");
  ctext(svg, legX[i]+85, 1180, k, 30, 0.88);
});

const colL = [116,427,738,1046], rowT = [1215,1497];
const PW = 243, PH = 241;
bPanels.forEach((p,k)=>{
  const L = colL[k%4], T = rowT[Math.floor(k/4)], R = L+PW, B = T+PH;
  const x = d3.scaleLinear().domain([0,3]).range([L,R]);
  const yl = d3.scaleLinear().domain([0,p.lmax]).range([B,T]);
  const yr = d3.scaleLinear().domain([0,p.rmax]).range([B,T]);
  const g = svg.append("g");
  const lineL = d3.line().x(v=>x(v[0])).y(v=>yl(v[1]));
  const lineR = d3.line().x(v=>x(v[0])).y(v=>yr(v[1]));
  p.dashed.forEach(([d,c])=>{
    g.append("path").attr("d",lineR(d)).attr("fill","none").attr("stroke",lineColors[c]).attr("stroke-width",2).attr("stroke-dasharray","4,3");
  });
  p.bands.forEach(([d,c])=>{
    g.append("path").attr("d",d3.area().x(v=>x(v[0])).y0(v=>yl(v[1])).y1(v=>yl(v[2]))(d)).attr("fill",lineColors[c]).attr("opacity",0.95);
  });
  if(p.halo) p.solid.forEach(([d,c])=>{
    g.append("path").attr("d",lineL(d)).attr("fill","none").attr("stroke",lineColors.AVG).attr("stroke-width",8).attr("stroke-linejoin","round").attr("opacity",0.9);
  });
  p.solid.forEach(([d,c])=>{
    g.append("path").attr("d",lineL(d)).attr("fill","none").attr("stroke",lineColors[c])
      .attr("stroke-width",c==="NCR"?3.5:(p.halo?3:2.2)).attr("stroke-linejoin","round");
  });
  g.append("line").attr("x1",L).attr("x2",L).attr("y1",T).attr("y2",B).attr("stroke",INK).attr("stroke-width",2);
  g.append("line").attr("x1",R).attr("x2",R).attr("y1",T).attr("y2",B).attr("stroke",INK).attr("stroke-width",2);
  g.append("line").attr("x1",L).attr("x2",R).attr("y1",B).attr("y2",B).attr("stroke",INK).attr("stroke-width",3.5);
  p.lt.forEach(t=>{
    g.append("line").attr("x1",L-4).attr("x2",L).attr("y1",yl(t)).attr("y2",yl(t)).attr("stroke",INK).attr("stroke-width",1.5);
    ctext(g, L-5, yl(t)+4.5, t, 13, 0.82, "end");
  });
  p.rt.forEach(t=>{
    g.append("line").attr("x1",R).attr("x2",R+3).attr("y1",yr(t)).attr("y2",yr(t)).attr("stroke",INK).attr("stroke-width",1.5);
    ctext(g, R+4, yr(t)+4.5, t, 13, 0.82, "start");
  });
  posLabels.forEach((lab,i)=>{
    g.append("line").attr("x1",x(i)).attr("x2",x(i)).attr("y1",B).attr("y2",B+4).attr("stroke",INK).attr("stroke-width",1.5);
    ctext(g, x(i), B+19, lab, 15, 0.82, "middle");
  });
  ctext(g, (L+R)/2, k<4?T+4:T+10, p.title, 25, 0.88, "middle")
    .attr("font-style","italic").attr("font-weight",p.bold?"bold":"normal");
  if(p.n) ctext(g, L+6, T+51, p.n, 23, 0.88, "start");
});

svg.append("text").attr("transform","translate(27,1472) rotate(-90)").attr("text-anchor","middle").attr("dy","0.35em")
  .attr("font-size",38).attr("fill",INK).text("DNA methylation level (%)");
svg.append("text").attr("transform","translate(70,1484) rotate(-90)").attr("text-anchor","middle").attr("dy","0.35em")
  .attr("font-size",36.5).attr("fill",INK).text("mCG-enriched/gbM");
svg.append("text").attr("transform","translate(1376,1468) rotate(90)").attr("text-anchor","middle").attr("dy","0.35em")
  .attr("font-size",33).attr("fill",INK).text("DNA methylation level (%)");
svg.append("text").attr("transform","translate(1338,1492) rotate(90)").attr("text-anchor","middle").attr("dy","0.35em")
  .attr("font-size",33).attr("fill",INK).text("All genes");
svg.append("text").attr("x",709).attr("y",1791).attr("text-anchor","middle").attr("font-size",35).attr("fill",INK).text("Position");
</script>
</body></html>
